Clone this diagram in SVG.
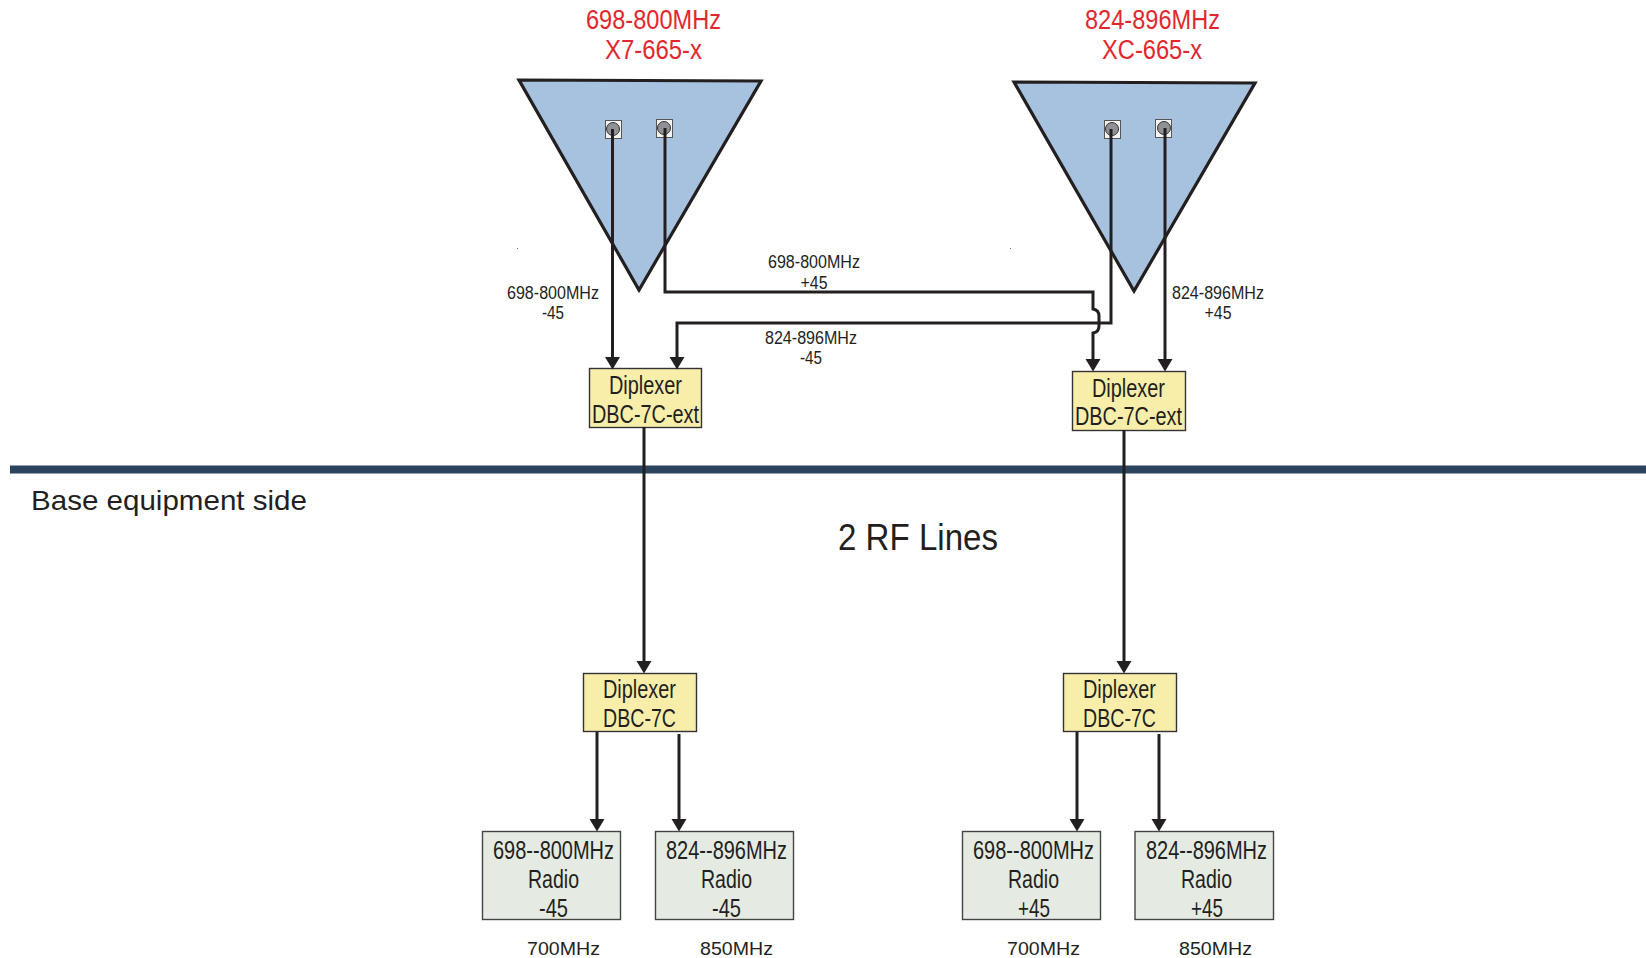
<svg xmlns="http://www.w3.org/2000/svg" width="1646" height="958" viewBox="0 0 1646 958">
<style>
text{font-family:"Liberation Sans",Arial,sans-serif;fill:#231f20}
.m{text-anchor:start;font-size:18px}
.b{font-size:26px}
.t{font-size:27px;fill:#e1272d}
.o{font-size:18.5px}
.ant{fill:#a6c2df;stroke:#231f20;stroke-width:3.2;stroke-linejoin:miter}
.dip{fill:#f8eeaa;stroke:#333;stroke-width:1.4}
.rad{fill:#e5ebe2;stroke:#444;stroke-width:1.4}
.pt{fill:#f4f4f2;stroke:#555;stroke-width:1}
.pc{fill:#8f9195;stroke:#333;stroke-width:1}
.c{fill:none;stroke:#231f20;stroke-width:3;marker-end:url(#a)}
.s{fill:#777}
</style>
<defs>
<marker id="a" markerUnits="userSpaceOnUse" markerWidth="13" markerHeight="16" refX="0" refY="8" orient="auto" viewBox="0 0 13 16"><path d="M0,0.500 L12.500,8 L0,15.500 Z" fill="#231f20"/></marker>
</defs>
<rect width="1646" height="958" fill="#fff"/>

<g id="divider"><rect x="10" y="465.500" width="1636" height="8" fill="#2c435f"/>
<text x="31" y="510" font-size="28" textLength="276" lengthAdjust="spacingAndGlyphs">Base equipment side</text></g>
<g id="label-lines"><text x="838" y="550" font-size="36" textLength="160" lengthAdjust="spacingAndGlyphs">2 RF Lines</text></g>

<g id="antenna-left">
<polygon class="ant" points="519,80 761,81 639,290"/>
<rect class="pt" x="605.500" y="120.500" width="16" height="18"/><circle class="pc" cx="613" cy="129" r="6.500"/>
<rect class="pt" x="656.500" y="119.500" width="16" height="18"/><circle class="pc" cx="664" cy="128" r="6.500"/>
<text class="t" x="586" y="29" textLength="135" lengthAdjust="spacingAndGlyphs">698-800MHz</text>
<text class="t" x="605" y="59" textLength="97" lengthAdjust="spacingAndGlyphs">X7-665-x</text>
</g>
<g id="antenna-right">
<polygon class="ant" points="1014,82 1255,83 1134,291"/>
<rect class="pt" x="1104.500" y="120.500" width="16" height="18"/><circle class="pc" cx="1112" cy="129" r="6.500"/>
<rect class="pt" x="1155.500" y="119.500" width="16" height="18"/><circle class="pc" cx="1164" cy="128" r="6.500"/>
<text class="t" x="1085" y="29" textLength="135" lengthAdjust="spacingAndGlyphs">824-896MHz</text>
<text class="t" x="1102" y="59" textLength="100" lengthAdjust="spacingAndGlyphs">XC-665-x</text>
</g>

<g id="diplexer-top-left"><rect class="dip" x="589.500" y="368.500" width="112" height="59"/>
<text class="b" x="609" y="394" textLength="73" lengthAdjust="spacingAndGlyphs">Diplexer</text>
<text class="b" x="592" y="423" textLength="107" lengthAdjust="spacingAndGlyphs">DBC-7C-ext</text></g>
<g id="diplexer-top-right"><rect class="dip" x="1072.500" y="371.500" width="113" height="59"/>
<text class="b" x="1092" y="397" textLength="73" lengthAdjust="spacingAndGlyphs">Diplexer</text>
<text class="b" x="1075" y="425" textLength="107" lengthAdjust="spacingAndGlyphs">DBC-7C-ext</text></g>
<g id="diplexer-bottom-left"><rect class="dip" x="583.500" y="673.500" width="113" height="58"/>
<text class="b" x="603" y="698" textLength="73" lengthAdjust="spacingAndGlyphs">Diplexer</text>
<text class="b" x="603" y="727" textLength="73" lengthAdjust="spacingAndGlyphs">DBC-7C</text></g>
<g id="diplexer-bottom-right"><rect class="dip" x="1063.500" y="673.500" width="113" height="58"/>
<text class="b" x="1083" y="698" textLength="73" lengthAdjust="spacingAndGlyphs">Diplexer</text>
<text class="b" x="1083" y="727" textLength="73" lengthAdjust="spacingAndGlyphs">DBC-7C</text></g>

<g id="radio-1"><rect class="rad" x="482.500" y="831.500" width="138" height="88"/>
<text class="b" x="493" y="859" textLength="121" lengthAdjust="spacingAndGlyphs">698--800MHz</text>
<text class="b" x="528" y="888" textLength="51" lengthAdjust="spacingAndGlyphs">Radio</text>
<text class="b" x="539" y="917" textLength="29" lengthAdjust="spacingAndGlyphs">-45</text></g>
<g id="radio-2"><rect class="rad" x="655.500" y="831.500" width="138" height="88"/>
<text class="b" x="666" y="859" textLength="121" lengthAdjust="spacingAndGlyphs">824--896MHz</text>
<text class="b" x="701" y="888" textLength="51" lengthAdjust="spacingAndGlyphs">Radio</text>
<text class="b" x="712" y="917" textLength="29" lengthAdjust="spacingAndGlyphs">-45</text></g>
<g id="radio-3"><rect class="rad" x="962.500" y="831.500" width="138" height="88"/>
<text class="b" x="973" y="859" textLength="121" lengthAdjust="spacingAndGlyphs">698--800MHz</text>
<text class="b" x="1008" y="888" textLength="51" lengthAdjust="spacingAndGlyphs">Radio</text>
<text class="b" x="1018" y="917" textLength="32" lengthAdjust="spacingAndGlyphs">+45</text></g>
<g id="radio-4"><rect class="rad" x="1135" y="831.500" width="138.500" height="88"/>
<text class="b" x="1146" y="859" textLength="121" lengthAdjust="spacingAndGlyphs">824--896MHz</text>
<text class="b" x="1181" y="888" textLength="51" lengthAdjust="spacingAndGlyphs">Radio</text>
<text class="b" x="1191" y="917" textLength="32" lengthAdjust="spacingAndGlyphs">+45</text></g>

<g id="connectors">
<path class="c" d="M612.500,129 V357"/>
<path class="c" d="M665,128 V292 H1093 V309 Q1099,310 1099,316 V326 Q1099,332 1093,333 V359"/>
<path class="c" d="M1111,129 V323 H677 V357"/>
<path class="c" d="M1165,128 V359"/>
<path class="c" d="M644,427 V661"/>
<path class="c" d="M1124,430 V661"/>
<path class="c" d="M597,732 V819"/>
<path class="c" d="M679,734 V819"/>
<path class="c" d="M1077,732 V819"/>
<path class="c" d="M1159,734 V819"/>
</g>

<g id="connector-labels">
<text class="m" x="507" y="298.500" textLength="92" lengthAdjust="spacingAndGlyphs">698-800MHz</text>
<text class="m" x="542" y="319" textLength="22" lengthAdjust="spacingAndGlyphs">-45</text>
<text class="m" x="768" y="268" textLength="92" lengthAdjust="spacingAndGlyphs">698-800MHz</text>
<text class="m" x="800.500" y="289" textLength="27" lengthAdjust="spacingAndGlyphs">+45</text>
<text class="m" x="765" y="344" textLength="92" lengthAdjust="spacingAndGlyphs">824-896MHz</text>
<text class="m" x="800" y="364" textLength="22" lengthAdjust="spacingAndGlyphs">-45</text>
<text class="m" x="1172" y="299" textLength="92" lengthAdjust="spacingAndGlyphs">824-896MHz</text>
<text class="m" x="1204.500" y="319" textLength="27" lengthAdjust="spacingAndGlyphs">+45</text>
</g>
<g id="band-labels">
<text class="o" x="527" y="955" textLength="73" lengthAdjust="spacingAndGlyphs">700MHz</text>
<text class="o" x="700" y="955" textLength="73" lengthAdjust="spacingAndGlyphs">850MHz</text>
<text class="o" x="1007" y="955" textLength="73" lengthAdjust="spacingAndGlyphs">700MHz</text>
<text class="o" x="1179" y="955" textLength="73" lengthAdjust="spacingAndGlyphs">850MHz</text>
</g>
<g id="specks"><rect class="s" x="517" y="248" width="1" height="1"/><rect class="s" x="1010" y="248" width="1" height="1"/></g>
</svg>
